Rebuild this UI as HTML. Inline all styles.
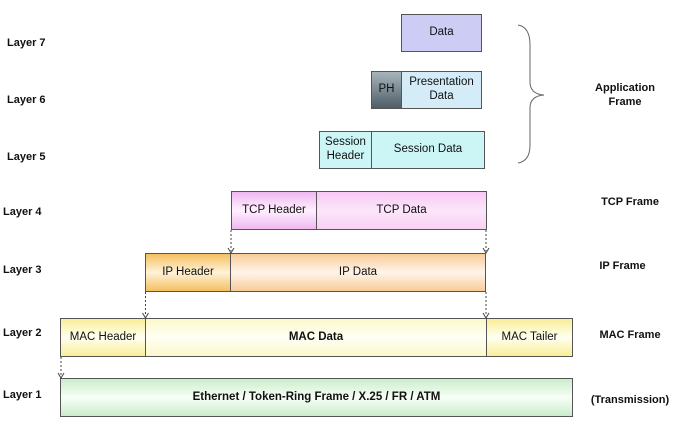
<!DOCTYPE html>
<html><head><meta charset="utf-8"><style>
body{margin:0;width:677px;height:424px;background:#fff;position:relative;overflow:hidden;font-family:"Liberation Sans",Arial,sans-serif;}
.l{position:absolute;font-size:11px;font-weight:bold;color:#111;white-space:nowrap;}
.b{position:absolute;box-sizing:border-box;border:1px solid #555;display:flex;align-items:center;justify-content:center;text-align:center;font-size:11.5px;color:#111;line-height:1.2;}
.r{position:absolute;font-size:11px;font-weight:bold;color:#111;text-align:center;line-height:1.25;}
</style></head><body>
<div class="l" style="left:7px;top:37px">Layer 7</div>
<div class="l" style="left:7px;top:94px">Layer 6</div>
<div class="l" style="left:7px;top:151px">Layer 5</div>
<div class="l" style="left:3px;top:206px">Layer 4</div>
<div class="l" style="left:3px;top:264px">Layer 3</div>
<div class="l" style="left:3px;top:327px">Layer 2</div>
<div class="l" style="left:3px;top:389px">Layer 1</div>

<div class="b" style="left:401px;top:14px;width:81px;height:38px;background:#ccccf4">Data</div>
<div class="b" style="left:371px;top:71px;width:31px;height:38px;background:linear-gradient(#a8b4bc,#4e5e66);">PH</div>
<div class="b" style="left:401px;top:71px;width:81px;height:38px;background:#d4ecf8">Presentation<br>Data</div>
<div class="b" style="left:319px;top:131px;width:53px;height:38px;background:#ccf6f6">Session<br>Header</div>
<div class="b" style="left:371px;top:131px;width:114px;height:38px;background:#ccf6f6">Session Data</div>
<div class="b" style="left:231px;top:191px;width:86px;height:39px;background:linear-gradient(#f0b8f0,#fff0ff 50%,#f0b8f0)">TCP Header</div>
<div class="b" style="left:316px;top:191px;width:171px;height:39px;background:linear-gradient(#f8c8f4,#fce6fa 50%,#f8d0f4)">TCP Data</div>
<div class="b" style="left:145px;top:253px;width:86px;height:39px;background:linear-gradient(#f4c060,#fff2d8 50%,#f4c060)">IP Header</div>
<div class="b" style="left:230px;top:253px;width:256px;height:39px;background:linear-gradient(#f8cc98,#fff4ea 50%,#f8cc98)">IP Data</div>
<div class="b" style="left:60px;top:318px;width:86px;height:39px;background:linear-gradient(#f8ee98,#fffff0 50%,#f8ee98)">MAC Header</div>
<div class="b" style="left:145px;top:318px;width:342px;height:39px;background:linear-gradient(#fcf8cc,#fffff4 50%,#fcf8cc);font-weight:bold">MAC Data</div>
<div class="b" style="left:486px;top:318px;width:87px;height:39px;background:linear-gradient(#f8ee98,#fffff0 50%,#f8ee98)">MAC Tailer</div>
<div class="b" style="left:60px;top:378px;width:513px;height:39px;background:linear-gradient(#cceccc,#f6fff6 50%,#cceccc);font-weight:bold">Ethernet / Token-Ring Frame / X.25 / FR / ATM</div>

<svg width="677" height="424" style="position:absolute;left:0;top:0">
<g stroke="#444" stroke-dasharray="2,2" stroke-width="1" fill="none">
<line x1="231" y1="230" x2="231" y2="251"/><line x1="486" y1="230" x2="486" y2="251"/>
<line x1="145.5" y1="292" x2="145.5" y2="316"/><line x1="486" y1="292" x2="486" y2="316"/>
<line x1="61" y1="357" x2="61" y2="376"/>
</g>
<g stroke="#444" fill="none" stroke-width="1">
<path d="M228,248 L231,253 L234,248"/><path d="M483,248 L486,253 L489,248"/>
<path d="M142.5,313 L145.5,318 L148.5,313"/><path d="M483,313 L486,318 L489,313"/>
<path d="M58,373 L61,378 L64,373"/>
<path d="M518,25 Q530,27 530,45 L530,82 Q530,94 544,95 Q530,96 530,108 L530,145 Q530,161 518,163" stroke="#666"/>
</g>
</svg>

<div class="r" style="left:580px;top:82px;width:90px">Application<br>Frame</div>
<div class="r" style="left:580px;top:196px;width:100px">TCP Frame</div>
<div class="r" style="left:580px;top:260px;width:85px">IP Frame</div>
<div class="r" style="left:580px;top:329px;width:100px">MAC Frame</div>
<div class="r" style="left:580px;top:394px;width:100px">(Transmission)</div>
</body></html>
